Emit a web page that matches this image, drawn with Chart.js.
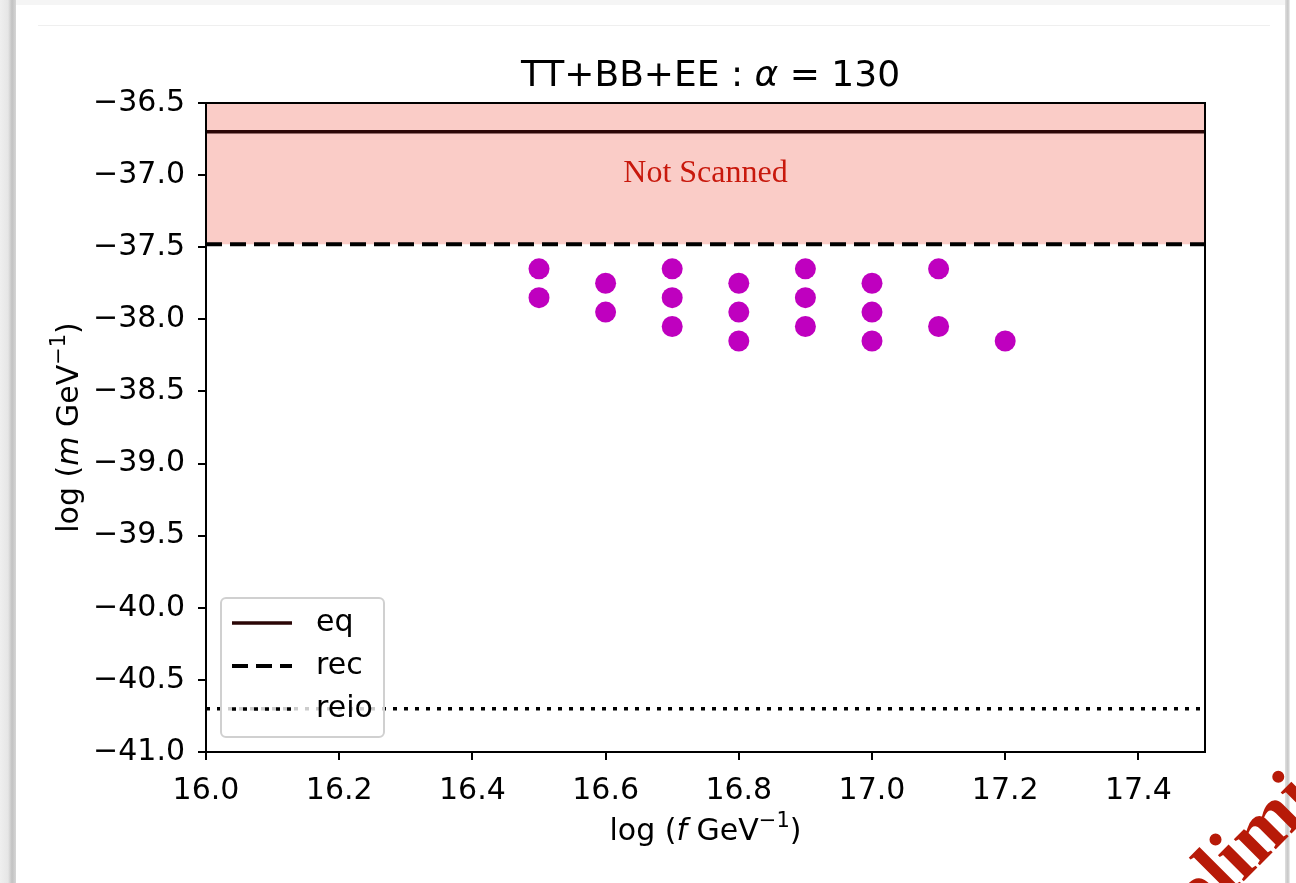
<!DOCTYPE html>
<html>
<head>
<meta charset="utf-8">
<title>TT+BB+EE : α = 130</title>
<script src="https://cdn.jsdelivr.net/npm/chart.js@4.4.0/dist/chart.umd.min.js"></script>
<style>
    html, body { margin: 0; padding: 0; background: #fff; overflow: hidden; }
    #pagina { position: relative; width: 1296px; height: 883px; overflow: hidden; background: #fff; }
    #grafico { position: absolute; left: 0; top: 0; }
    .barra-izq { position: absolute; left: 0; top: 0; width: 16px; height: 883px;
        background: linear-gradient(to right, #efefef 0px, #e6e6e6 8px, #c2c2c2 12px, #d6d6d6 16px); }
    .barra-sup { position: absolute; left: 16px; top: 0; width: 1270px; height: 5px; background: #f5f5f5; }
    .linea-sup { position: absolute; left: 38px; top: 25px; width: 1232px; height: 1px; background: #efefef; }
    .barra-der { position: absolute; left: 1285px; top: 0; width: 5px; height: 883px;
        background: linear-gradient(to right, #e0e0e0, #c6c6c6 60%, #f2f2f2); }
    #marca { position: absolute; left: 0; top: 0; }
</style>
</head>
<body>
<div id="pagina">
    <div class="barra-izq"></div>
    <div class="barra-sup"></div>
    <div class="linea-sup"></div>
    <div class="barra-der"></div>
    <canvas id="grafico" width="1296" height="883"></canvas>
    <svg id="marca" width="1296" height="883">
        <text x="1143" y="982" transform="rotate(-45 1143 982)"
              font-family="Liberation Serif" font-weight="bold" font-size="80" fill="#b71a08">Preliminary</text>
    </svg>
</div>
<script>
// Datos
const puntosX = [16.5, 16.5, 16.6, 16.6, 16.7, 16.7, 16.7, 16.8, 16.8, 16.8,
                 16.9, 16.9, 16.9, 17.0, 17.0, 17.0, 17.1, 17.1, 17.2];
const puntosY = [-37.65, -37.85, -37.75, -37.95, -37.65, -37.85, -38.05, -37.75, -37.95, -38.15,
                 -37.65, -37.85, -38.05, -37.75, -37.95, -38.15, -37.65, -38.05, -38.15];

const nivelEq = -36.7;
const nivelRec = -37.48;
const nivelReio = -40.7;

const rangoX = [16.0, 17.5];
const rangoY = [-41.0, -36.5];

const ticksX = [16.0, 16.2, 16.4, 16.6, 16.8, 17.0, 17.2, 17.4];
const ticksY = [-41.0, -40.5, -40.0, -39.5, -39.0, -38.5, -38.0, -37.5, -37.0, -36.5];

const nombresLineas = ['eq', 'rec', 'reio'];

// Posición (en datos) del texto "Not Scanned"
const textoZonaX = 16.75;
const textoZonaY = -37.05;

const fuente = '"DejaVu Sans", sans-serif';

// Formato con signo menos tipográfico
function formatear(v) {
    const s = Math.abs(v).toFixed(1);
    return v < 0 ? '\u2212' + s : s;
}

// Dibuja texto con partes de distinto estilo, centrado en x
function dibujarSegmentos(ctx, segmentos, x, y) {
    let total = 0;
    segmentos.forEach(s => {
        ctx.font = s.font;
        s.ancho = ctx.measureText(s.t).width;
        total += s.ancho;
    });
    let cx = x - total / 2;
    ctx.textAlign = 'left';
    ctx.textBaseline = 'alphabetic';
    segmentos.forEach(s => {
        ctx.font = s.font;
        ctx.fillText(s.t, cx, y - (s.sube || 0));
        cx += s.ancho;
    });
}

function etiquetaEje(letra) {
    return [
        { t: 'log (', font: '30px ' + fuente },
        { t: letra, font: 'italic 30px ' + fuente },
        { t: ' GeV', font: '30px ' + fuente },
        { t: '\u22121', font: '21px ' + fuente, sube: 13 },
        { t: ')', font: '30px ' + fuente }
    ];
}

const lineaHorizontal = nivel => [{ x: rangoX[0], y: nivel }, { x: rangoX[1], y: nivel }];

const pluginDecoracion = {
    id: 'decoracion',
    afterDatasetsDraw(chart) {
        const ctx = chart.ctx;
        const area = chart.chartArea;
        const sx = chart.scales.x;
        const sy = chart.scales.y;

        ctx.save();
        // Texto de la zona no escaneada
        ctx.font = '32px "Liberation Serif", serif';
        ctx.fillStyle = '#c8180c';
        ctx.textAlign = 'center';
        ctx.textBaseline = 'alphabetic';
        ctx.fillText('Not Scanned', sx.getPixelForValue(textoZonaX), sy.getPixelForValue(textoZonaY));

        // Marco completo
        ctx.strokeStyle = '#000';
        ctx.lineWidth = 2;
        ctx.strokeRect(area.left, area.top, area.right - area.left, area.bottom - area.top);

        // Leyenda
        const bx = area.left + 15, by = area.bottom - 154, bw = 163, bh = 139;
        ctx.beginPath();
        ctx.roundRect(bx, by, bw, bh, 5);
        ctx.fillStyle = 'rgba(255,255,255,0.8)';
        ctx.fill();
        ctx.strokeStyle = '#d0d0d0';
        ctx.lineWidth = 2;
        ctx.stroke();

        const filas = [25, 68, 111];
        nombresLineas.forEach((nombre, i) => {
            const ds = chart.data.datasets[i + 1];
            const fy = by + filas[i];
            ctx.beginPath();
            ctx.setLineDash(ds.borderDash || []);
            ctx.lineWidth = ds.borderWidth;
            ctx.strokeStyle = ds.borderColor;
            ctx.moveTo(bx + 11, fy);
            ctx.lineTo(bx + 71, fy);
            ctx.stroke();
            ctx.setLineDash([]);
            ctx.fillStyle = '#000';
            ctx.font = '30px ' + fuente;
            ctx.textAlign = 'left';
            ctx.textBaseline = 'middle';
            ctx.fillText(nombre, bx + 95, fy);
        });
        ctx.restore();
    },
    afterDraw(chart) {
        const ctx = chart.ctx;
        const area = chart.chartArea;
        const centroX = (area.left + area.right) / 2;
        ctx.save();
        ctx.fillStyle = '#000';
        // Título
        dibujarSegmentos(ctx, [
            { t: 'TT+BB+EE : ', font: '36px ' + fuente },
            { t: '\u03b1', font: 'italic 36px ' + fuente },
            { t: ' = 130', font: '36px ' + fuente }
        ], centroX + 5, 86);
        // Eje X
        dibujarSegmentos(ctx, etiquetaEje('f'), centroX, 840);
        // Eje Y
        ctx.translate(78, (area.top + area.bottom) / 2);
        ctx.rotate(-Math.PI / 2);
        dibujarSegmentos(ctx, etiquetaEje('m'), 0, 0);
        ctx.restore();
    }
};

const ctx = document.getElementById('grafico').getContext('2d');
const grafico = new Chart(ctx, {
    type: 'scatter',
    data: {
        datasets: [
            {
                label: 'puntos',
                data: puntosX.map((x, i) => ({ x: x, y: puntosY[i] })),
                backgroundColor: '#bf00bf',
                borderWidth: 0,
                pointRadius: 10.5,
                order: 0
            },
            {
                label: 'eq',
                data: lineaHorizontal(nivelEq),
                showLine: true,
                borderColor: '#2a0606',
                borderWidth: 3.5,
                pointRadius: 0,
                order: 1
            },
            {
                label: 'rec',
                data: lineaHorizontal(nivelRec),
                showLine: true,
                borderColor: '#000',
                borderWidth: 4,
                borderDash: [16, 8],
                borderCapStyle: 'butt',
                pointRadius: 0,
                order: 1
            },
            {
                label: 'reio',
                data: lineaHorizontal(nivelReio),
                showLine: true,
                borderColor: '#000',
                borderWidth: 3.5,
                borderDash: [4, 7],
                borderCapStyle: 'butt',
                pointRadius: 0,
                order: 1
            },
            {
                label: 'zona',
                data: lineaHorizontal(rangoY[1]),
                showLine: true,
                borderColor: 'rgba(120,30,20,0.6)',
                borderWidth: 2,
                backgroundColor: 'rgba(242,128,116,0.4)',
                fill: { value: nivelRec },
                pointRadius: 0,
                order: 2
            }
        ]
    },
    options: {
        responsive: false,
        animation: false,
        events: [],
        layout: { padding: { left: 0, top: 103, right: 91, bottom: 0 } },
        plugins: {
            legend: { display: false },
            tooltip: { enabled: false },
            title: { display: false }
        },
        scales: {
            x: {
                type: 'linear',
                min: rangoX[0],
                max: rangoX[1],
                afterBuildTicks: scale => { scale.ticks = ticksX.map(v => ({ value: v })); },
                afterFit: scale => { scale.height = 131; },
                ticks: {
                    callback: v => formatear(v),
                    color: '#000',
                    font: { family: 'DejaVu Sans', size: 30 },
                    padding: 13,
                    maxRotation: 0,
                    autoSkip: false
                },
                grid: { drawOnChartArea: false, color: '#000', lineWidth: 2, tickLength: 8 },
                border: { color: '#000', width: 2 }
            },
            y: {
                type: 'linear',
                min: rangoY[0],
                max: rangoY[1],
                afterBuildTicks: scale => { scale.ticks = ticksY.map(v => ({ value: v })); },
                afterFit: scale => { scale.width = 206; },
                ticks: {
                    callback: v => formatear(v),
                    color: '#000',
                    font: { family: 'DejaVu Sans', size: 30 },
                    padding: 13,
                    autoSkip: false
                },
                grid: { drawOnChartArea: false, color: '#000', lineWidth: 2, tickLength: 8 },
                border: { color: '#000', width: 2 }
            }
        }
    },
    plugins: [pluginDecoracion]
});
</script>
</body>
</html>
